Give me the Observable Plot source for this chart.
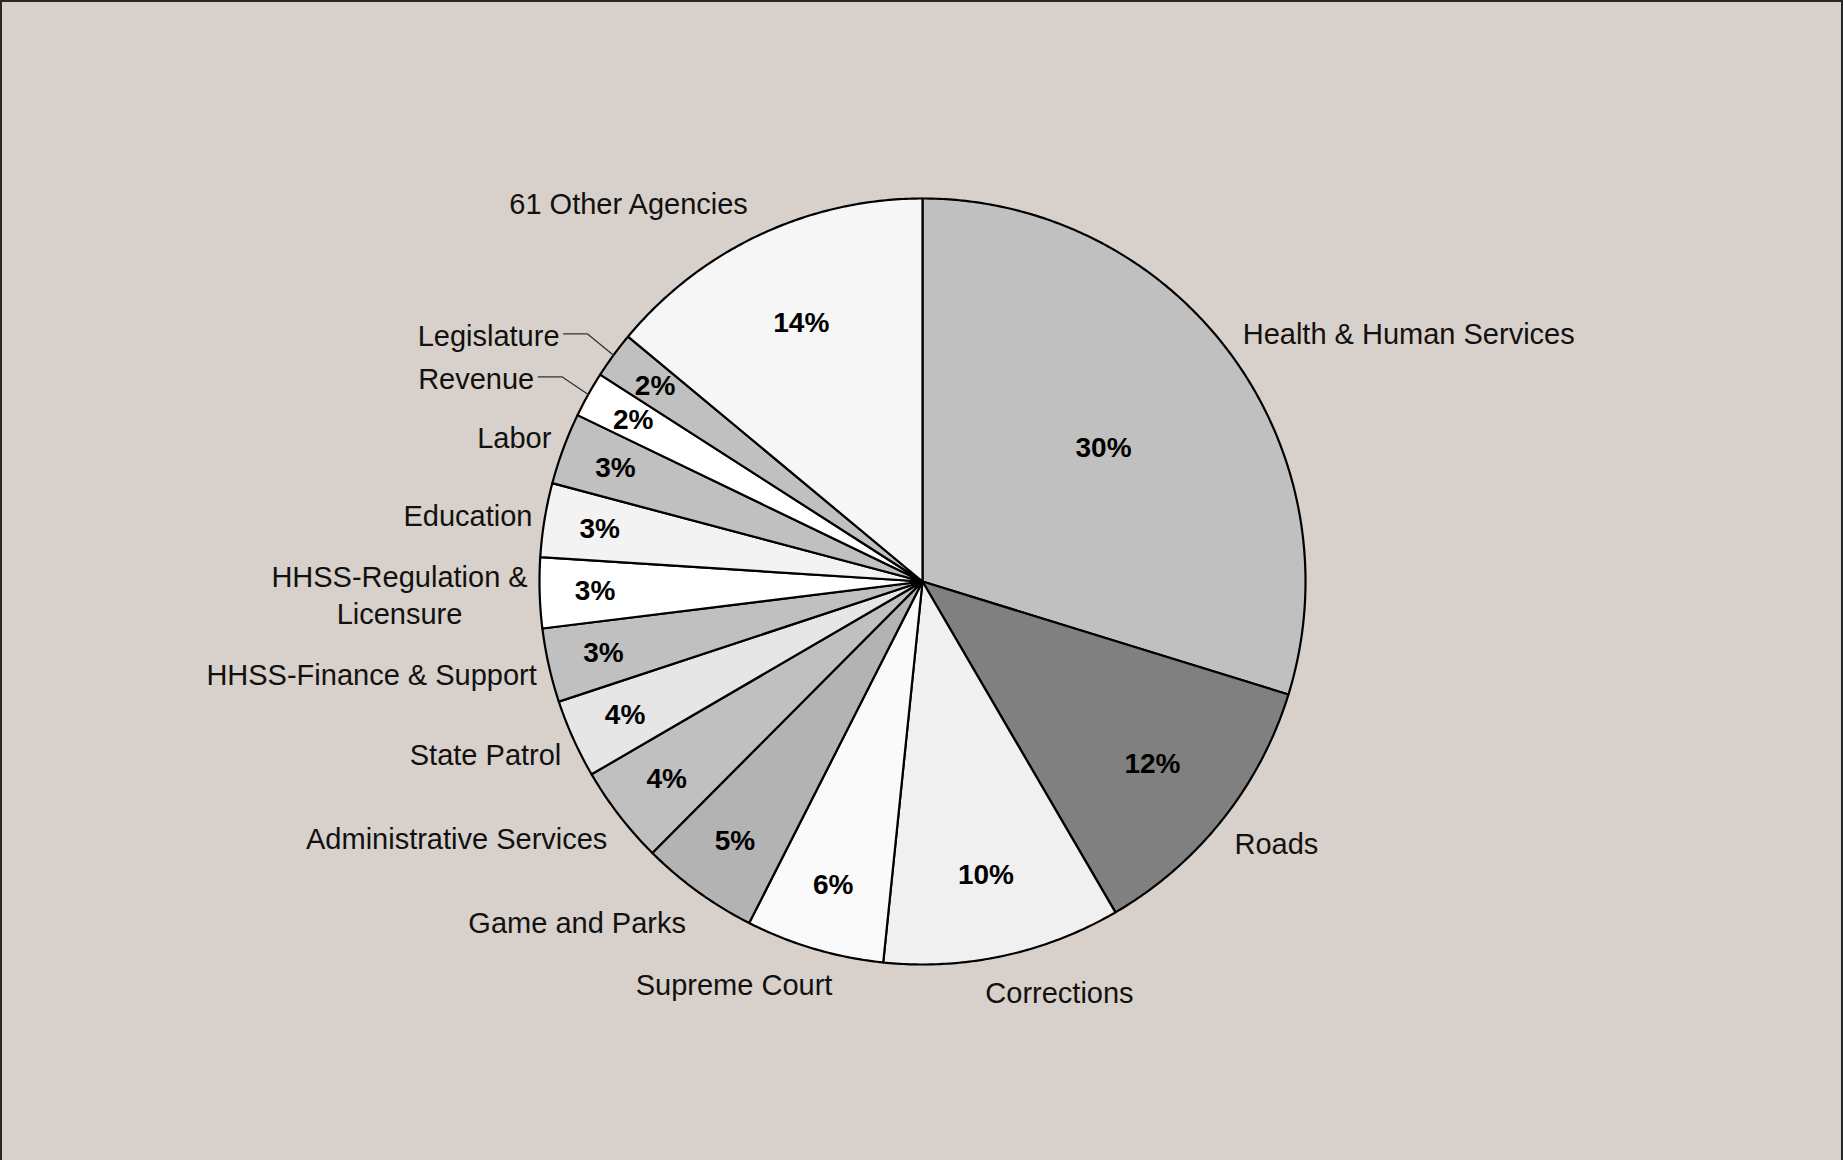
<!DOCTYPE html>
<html>
<head>
<meta charset="utf-8">
<script src="https://cdn.jsdelivr.net/npm/d3@7"></script>
<script src="https://cdn.jsdelivr.net/npm/@observablehq/plot@0.6"></script>
<style>
html, body { margin: 0; padding: 0; background: #d8d0ca; }
#wrap { position: relative; width: 1843px; height: 1160px; overflow: hidden; }
#frame { position: absolute; left: 0; top: 0; width: 1843px; height: 1170px; box-sizing: border-box; border: 2px solid #262626; pointer-events: none; }
svg { display: block; }
</style>
</head>
<body>
<div id="wrap"><div id="chart"></div><div id="frame"></div></div>
<script>
// ---- data (clockwise from 12 o'clock) ----
const categories = [
  "Health & Human Services", "Roads", "Corrections", "Supreme Court",
  "Game and Parks", "Administrative Services", "State Patrol",
  "HHSS-Finance & Support", "HHSS-Regulation &\nLicensure", "Education",
  "Labor", "Revenue", "Legislature", "61 Other Agencies"
];
const values = [29.77, 11.83, 10.04, 5.84, 4.99, 4.14, 3.32, 3.12, 2.97, 3.12, 3.02, 1.93, 1.96, 13.96];
const percentLabels = ["30%", "12%", "10%", "6%", "5%", "4%", "4%", "3%", "3%", "3%", "3%", "2%", "2%", "14%"];

// ---- styles ----
const fills = ["#c0c0c0", "#808080", "#f0f0f0", "#fafafa", "#b3b3b3", "#c0c0c0", "#e6e6e6",
               "#c0c0c0", "#ffffff", "#f3f3f3", "#c0c0c0", "#ffffff", "#c0c0c0", "#f6f6f6"];
const FONT = "'Liberation Sans', Arial, Helvetica, sans-serif";
const W = 1843, H = 1160, CX = 922, CY = 581, R = 383;
const LABEL_SIZE = 29, PCT_SIZE = 28;

// ---- geometry derived from the data ----
const total = d3.sum(values);
let acc = 0;
const slices = categories.map((c, i) => {
  const a0 = acc / total * 2 * Math.PI;
  acc += values[i];
  const a1 = acc / total * 2 * Math.PI;
  return { c, i, a0, a1, mid: (a0 + a1) / 2, share: values[i] / total, pct: percentLabels[i] };
});

const polygon = slices.flatMap(s => {
  const n = Math.max(4, Math.ceil((s.a1 - s.a0) * 180 / Math.PI * 2));
  const pts = [{ c: s.c, x: 0, y: 0 }];
  for (let k = 0; k <= n; k++) {
    const a = s.a0 + (s.a1 - s.a0) * k / n;
    pts.push({ c: s.c, x: Math.sin(a), y: Math.cos(a) });
  }
  pts.push({ c: s.c, x: 0, y: 0 });
  return pts;
});

// text measuring for multi-line labels
const ctx = document.createElement("canvas").getContext("2d");
ctx.font = `${LABEL_SIZE}px 'Liberation Sans', Arial, sans-serif`;
const textWidth = t => d3.max(t.split("\n"), l => ctx.measureText(l).width);

const toX = px => (px - CX) / R;
const toY = py => (CY - py) / R;

const labels = [];
const leaders = [];
slices.forEach(s => {
  const sn = Math.sin(s.mid), cs = Math.cos(s.mid);
  const px = CX + R * sn, py = CY - R * cs;
  const side = sn < 0 ? -1 : 1;
  let xoff = Math.abs(sn) < 0.35 ? -side * 18 : side * 12;
  const small = s.share < 0.025;
  if (small) xoff += side * 42;
  const tx = px + xoff, ty = py - cs * 36;
  let anchor = side < 0 ? "end" : "start";
  let ax = tx;
  if (s.c.includes("\n")) { anchor = "middle"; ax = tx + side * textWidth(s.c) / 2; }
  labels.push({ text: s.c, x: toX(ax), y: toY(ty), anchor });
  if (small) {
    leaders.push({ k: s.c, x: toX(tx - side * 4), y: toY(ty) });
    leaders.push({ k: s.c, x: toX(tx - side * 28), y: toY(ty) });
    leaders.push({ k: s.c, x: toX(px), y: toY(py) });
  }
});

const textMarks = ["start", "end", "middle"].map(a =>
  Plot.text(labels.filter(d => d.anchor === a), {
    x: "x", y: "y", text: "text", textAnchor: a,
    fontSize: LABEL_SIZE, fontFamily: FONT, fill: "#111", lineHeight: 1.26
  })
);

const plot = Plot.plot({
  width: W, height: H,
  marginTop: 0, marginRight: 0, marginBottom: 0, marginLeft: 0,
  x: { domain: [-CX / R, (W - CX) / R], range: [0, W], axis: null },
  y: { domain: [-(H - CY) / R, CY / R], range: [H, 0], axis: null },
  color: { type: "ordinal", domain: categories, range: fills },
  style: { background: "transparent", fontFamily: FONT },
  marks: [
    Plot.line(polygon, { x: "x", y: "y", z: "c", fill: "c", stroke: "#000", strokeWidth: 2.2, strokeLinejoin: "round", curve: "linear" }),
    Plot.line(leaders, { x: "x", y: "y", z: "k", stroke: "#333", strokeWidth: 1.3 }),
    Plot.text(slices, {
      x: s => Math.sin(s.mid) * (0.885 - s.share),
      y: s => Math.cos(s.mid) * (0.885 - s.share),
      text: "pct", fontSize: PCT_SIZE, fontWeight: "bold", fontFamily: FONT, fill: "#000"
    }),
    ...textMarks
  ]
});
document.getElementById("chart").append(plot);
</script>
</body>
</html>
